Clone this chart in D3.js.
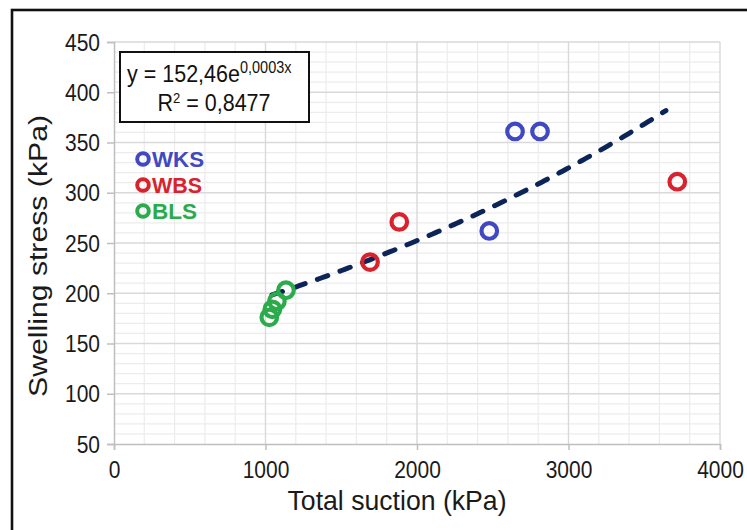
<!DOCTYPE html>
<html>
<head>
<meta charset="utf-8">
<script src="https://cdn.jsdelivr.net/npm/d3@7"></script>
<style>
  html, body { margin: 0; padding: 0; background: #fff; }
  svg { display: block; }
  text { font-family: "Liberation Sans", Arial, sans-serif; }
</style>
</head>
<body>
<svg id="chart" width="747" height="530"></svg>
<script>
// Swelling stress against total suction for three soils
const seriesNames = ["WKS", "WBS", "BLS"];
const seriesColors = ["#4149c2", "#d8232f", "#2bab4b"];
const wksSuction = [2477, 2647, 2812];
const wksStress  = [262, 361, 361];
const wbsSuction = [1690, 1883, 3718];
const wbsStress  = [231, 271, 311];
const blsSuction = [1025, 1045, 1075, 1135];
const blsStress  = [176, 184, 192, 203];

// Exponential trendline y = a·e^(k·x) fitted over all samples
const trendA = 152.46;
const trendK = 0.000252;
const trendRange = [1043, 3660];
const trendLabel = "y = 152,46e";
const trendExponent = "0,0003x";
const rSquaredLabel = "0,8477";

const xTicks = [0, 1000, 2000, 3000, 4000];
const yTicks = [50, 100, 150, 200, 250, 300, 350, 400, 450];

const series = [
  { name: seriesNames[0], color: seriesColors[0], x: wksSuction, y: wksStress },
  { name: seriesNames[1], color: seriesColors[1], x: wbsSuction, y: wbsStress },
  { name: seriesNames[2], color: seriesColors[2], x: blsSuction, y: blsStress }
];

const svg = d3.select("#chart");
const plot = { left: 114, right: 720, top: 42, bottom: 444 };
const stretch = 1.14; // the labels use tall, narrow lettering

const x = d3.scaleLinear().domain([0, 4000]).range([plot.left, plot.right]);
const y = d3.scaleLinear().domain([50, 450]).range([plot.bottom, plot.top]);

// outer frame (runs off the right and bottom edges)
svg.append("rect")
  .attr("x", 12).attr("y", 10).attr("width", 800).attr("height", 600)
  .attr("fill", "none").attr("stroke", "#111").attr("stroke-width", 2.6);

// minor gridlines
const grid = svg.append("g");
grid.append("g").selectAll("line").data(d3.range(200, 4000, 200).filter(v => v % 1000 !== 0))
  .join("line").attr("x1", d => x(d)).attr("x2", d => x(d))
  .attr("y1", plot.top).attr("y2", plot.bottom)
  .attr("stroke", "#ececec").attr("stroke-width", 1.2);
grid.append("g").selectAll("line").data(d3.range(60, 450, 10).filter(v => v % 50 !== 0))
  .join("line").attr("y1", d => y(d)).attr("y2", d => y(d))
  .attr("x1", plot.left).attr("x2", plot.right)
  .attr("stroke", "#ececec").attr("stroke-width", 1.2);

// major gridlines
grid.append("g").selectAll("line").data(xTicks.slice(1))
  .join("line").attr("x1", d => x(d)).attr("x2", d => x(d))
  .attr("y1", plot.top).attr("y2", plot.bottom)
  .attr("stroke", "#d9d9d9").attr("stroke-width", 1.4);
grid.append("g").selectAll("line").data(yTicks.slice(1))
  .join("line").attr("y1", d => y(d)).attr("y2", d => y(d))
  .attr("x1", plot.left).attr("x2", plot.right)
  .attr("stroke", "#d9d9d9").attr("stroke-width", 1.4);

// axes
const xAxis = svg.append("g")
  .attr("transform", `translate(0,${plot.bottom})`)
  .call(d3.axisBottom(x).tickValues(xTicks).tickFormat(d3.format("d")).tickSize(6));
const yAxis = svg.append("g")
  .attr("transform", `translate(${plot.left},0)`)
  .call(d3.axisLeft(y).tickValues(yTicks).tickFormat(d3.format("d")).tickSize(7));
[xAxis, yAxis].forEach(g => {
  g.select(".domain").attr("stroke", "#bfbfbf").attr("stroke-width", 1.5);
  g.selectAll(".tick line").attr("stroke", "#bfbfbf").attr("stroke-width", 1.5);
  g.selectAll(".tick text").attr("fill", "#1a1a1a").attr("font-size", 21)
    .attr("font-family", "'Liberation Sans', Arial, sans-serif")
    .attr("x", 0).attr("y", 0).attr("dy", null);
});
xAxis.selectAll(".tick text").attr("transform", `translate(0,34) scale(1,${stretch})`);
yAxis.selectAll(".tick text").attr("transform", `translate(-14,8) scale(1,${stretch})`);

// axis titles
svg.append("text")
  .attr("transform", `translate(397,510) scale(1,1.1)`).attr("text-anchor", "middle")
  .attr("font-size", 25).attr("fill", "#1a1a1a")
  .attr("textLength", 219).attr("lengthAdjust", "spacingAndGlyphs")
  .text("Total suction (kPa)");
svg.append("text")
  .attr("transform", "translate(47,256) rotate(-90)")
  .attr("text-anchor", "middle")
  .attr("font-size", 25).attr("fill", "#1a1a1a")
  .attr("textLength", 282).attr("lengthAdjust", "spacingAndGlyphs")
  .text("Swelling stress (kPa)");

// trendline
const trendPts = d3.range(trendRange[0], trendRange[1] + 1, 20).map(v => [v, trendA * Math.exp(trendK * v)]);
svg.append("path")
  .datum(trendPts)
  .attr("d", d3.line().x(d => x(d[0])).y(d => y(d[1])))
  .attr("fill", "none").attr("stroke", "#0c2558").attr("stroke-width", 5)
  .attr("stroke-dasharray", "11 13").attr("stroke-linecap", "round");

// markers
series.forEach(s => {
  svg.append("g").selectAll("circle")
    .data(s.x.map((v, i) => [v, s.y[i]]))
    .join("circle")
    .attr("cx", d => x(d[0])).attr("cy", d => y(d[1])).attr("r", 7.8)
    .attr("fill", "none").attr("stroke", s.color).attr("stroke-width", 4.2);
});

// equation box
const eq = svg.append("g");
eq.append("rect").attr("x", 120).attr("y", 52).attr("width", 189).attr("height", 70)
  .attr("fill", "#fff").attr("stroke", "#111").attr("stroke-width", 2);
const line1 = eq.append("text").attr("transform", `translate(127,82) scale(1,${stretch})`)
  .attr("font-size", 21.5).attr("fill", "#111");
line1.append("tspan").text(trendLabel);
line1.append("tspan").attr("font-size", 14.5).attr("dy", -8).text(trendExponent);
const line2 = eq.append("text").attr("transform", `translate(214,111) scale(1,${stretch})`)
  .attr("text-anchor", "middle").attr("font-size", 21.5).attr("fill", "#111");
line2.append("tspan").text("R");
line2.append("tspan").attr("font-size", 13).attr("dy", -7).text("2");
line2.append("tspan").attr("dy", 7).text(" = " + rSquaredLabel);

// legend
const legendWidths = [52, 50, 45];
const legend = svg.append("g");
series.forEach((s, i) => {
  const cy = 159 + i * 26;
  legend.append("circle").attr("cx", 143).attr("cy", cy).attr("r", 5.8)
    .attr("fill", "none").attr("stroke", s.color).attr("stroke-width", 4);
  legend.append("text").attr("transform", `translate(152,${cy + 7.5}) scale(1,1.12)`)
    .attr("font-size", 19).attr("font-weight", 600).attr("fill", s.color)
    .attr("textLength", legendWidths[i]).attr("lengthAdjust", "spacingAndGlyphs")
    .text(s.name);
});
</script>
</body>
</html>
